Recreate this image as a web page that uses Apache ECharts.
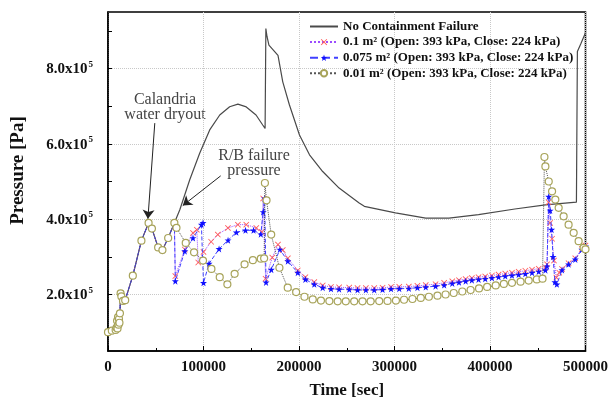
<!DOCTYPE html>
<html>
<head>
<meta charset="utf-8">
<script src="https://cdn.jsdelivr.net/npm/echarts@6/dist/echarts.min.js"></script>
<style>html,body{margin:0;padding:0;background:#fff;}#c{width:611px;height:405px;}</style>
</head>
<body>
<div id="c"></div>
<script>
// ---- Data (time in s, pressure in Pa) ----
const seriesNames = ['No Containment Failure', '0.1 m\u00B2 (Open: 393 kPa, Close: 224 kPa)', '0.075 m\u00B2 (Open: 393 kPa, Close: 224 kPa)', '0.01 m\u00B2 (Open: 393 kPa, Close: 224 kPa)'];
const xTickLabels = [0, 100000, 200000, 300000, 400000, 500000];
const yTickLabels = [200000, 400000, 600000, 800000];

// shared early transient (all cases identical)
const earlyT = [0, 4000, 8000, 10000, 11500, 12500, 13200, 14000, 15700, 18000, 26000, 35000, 42500, 46000, 52500, 57000, 63000, 69500];
const earlyP = [100000, 104000, 106000, 110000, 135000, 150000, 203000, 195000, 183000, 185000, 250000, 343000, 390000, 375000, 325000, 318000, 350000, 390000];

// oscillating cluster visible in 0.01 m2 case
const greenClusterT = [9000, 9500, 10500, 11000, 12000];
const greenClusterP = [112000, 130000, 140000, 120000, 125000];

const blackT = [75200, 85600, 96000, 106500, 117000, 127400, 136000, 144800, 155000, 162000, 164500, 165300, 166500, 168500, 178000, 183000, 190000, 200500, 211000, 224800, 242000, 263000, 268400, 301000, 332700, 357000, 388000, 426000, 458000, 490500, 491500, 495000, 500000];
const blackP = [425000, 504500, 575000, 637000, 676500, 698400, 705500, 698000, 676500, 650000, 641000, 906000, 885000, 862000, 835000, 764500, 703000, 623500, 571000, 526500, 482500, 443000, 434000, 416500, 403000, 403000, 412000, 427000, 438000, 445000, 845000, 865000, 895000];

const redT = [70500, 80400, 89000, 93000, 94500, 100000, 108000, 115000, 125600, 136000, 144800, 155300, 161000, 162500, 165000, 172000, 178000, 183000, 188300, 198700, 206700, 216000, 224800, 233500, 242000, 252600, 261300, 270000, 278800, 287500, 296400, 305000, 315000, 324000, 332700, 343000, 352000, 360500, 367500, 374500, 381000, 388000, 395000, 402000, 409000, 416000, 423000, 430000, 437000, 444000, 451000, 458000, 459700, 461300, 463000, 465000, 467000, 469500, 472500, 475400, 482300, 489300, 496200, 500000];
const redP = [249000, 319500, 363500, 372000, 285000, 313000, 340000, 359000, 376700, 385500, 385500, 376700, 366000, 455000, 242000, 298000, 332500, 318000, 296000, 264000, 246000, 233000, 224000, 220000, 219000, 218500, 217000, 217000, 217000, 218000, 220000, 220500, 221000, 223000, 225000, 227500, 231000, 235000, 238000, 241000, 243500, 246000, 248000, 250500, 253000, 255500, 258000, 260500, 263000, 266000, 268500, 271000, 280000, 445000, 390000, 348000, 290000, 245000, 258000, 268000, 283000, 296000, 321000, 330000];

const blueT = [70500, 80400, 89000, 97800, 99500, 100000, 105800, 116300, 125700, 134400, 144000, 152400, 160000, 162500, 164000, 165500, 171000, 180000, 188300, 198700, 206700, 216000, 224800, 233500, 242000, 252600, 261300, 270000, 278800, 287500, 296400, 305000, 315000, 324000, 332700, 343000, 352000, 360500, 367500, 374500, 381000, 388000, 395000, 402000, 409000, 416000, 423000, 430000, 437000, 444000, 451000, 458000, 459700, 461500, 463000, 464500, 466000, 468000, 470000, 475400, 482300, 489300, 496200, 500000];
const blueP = [235500, 315000, 350000, 385500, 390000, 231000, 282000, 321000, 344000, 365000, 370400, 370400, 360000, 419000, 455000, 232000, 266000, 319500, 288500, 258000, 240000, 227000, 218000, 215000, 214000, 213500, 212000, 212000, 212000, 213000, 215000, 215500, 216000, 218000, 219700, 222000, 225000, 229500, 232500, 235500, 238000, 240000, 241800, 244000, 246500, 249000, 251000, 253000, 255000, 258000, 261000, 264600, 275000, 460000, 423000, 372000, 300000, 233000, 227000, 265000, 280000, 293000, 319000, 328000];

const greenT = [71700, 81400, 90100, 99500, 108300, 117000, 125000, 132600, 143000, 151700, 160000, 163500, 164300, 166000, 170900, 179500, 188200, 197000, 205700, 214400, 223000, 231800, 240500, 249000, 257800, 266500, 275000, 284000, 292700, 301500, 310000, 318800, 327500, 336000, 345000, 353500, 362000, 371000, 379700, 388500, 397000, 406000, 414500, 423000, 432000, 440500, 449000, 455000, 457000, 458000, 461500, 465000, 468400, 471900, 477100, 482300, 487600, 492800, 498000, 500000];
const greenP = [377000, 337000, 312000, 290000, 268000, 246000, 227000, 255000, 280000, 291000, 295000, 296000, 496000, 450000, 359000, 271000, 218000, 206500, 194000, 187000, 184000, 182500, 182000, 182000, 182000, 182000, 182000, 182500, 183000, 184000, 186000, 188000, 191000, 194000, 197000, 200000, 204000, 208000, 212000, 216000, 220000, 224000, 228000, 231000, 234000, 237000, 240000, 242000, 565000, 540000, 500000, 474000, 452000, 430000, 407500, 385500, 363700, 341500, 324000, 320000];

// arrows: [fromT, fromP, toT, toP]
const arrowCalandria = [49000, 655000, 41800, 401000];
const arrowRB = [118000, 515000, 78300, 436000];

// ---- helpers ----
function zip(ts, ps) { return ts.map((t, i) => [t, ps[i]]); }
function joined(tsA, psA, tsB, psB) {
  return zip(tsA, psA).concat(zip(tsB, psB)).sort((a, b) => a[0] - b[0]);
}

const SERIF = 'Liberation Serif';
const crossPath = 'path://M0,1L1,0L5,4L9,0L10,1L6,5L10,9L9,10L5,6L1,10L0,9L4,5Z';
const starPath = 'path://M5,0L6.2,3.6L10,3.6L7,5.9L8.1,9.5L5,7.3L1.9,9.5L3,5.9L0,3.6L3.8,3.6Z';

const chart = echarts.init(document.getElementById('c'), null, { renderer: 'canvas' });

const yTicksAll = [100000, 200000, 300000, 400000, 500000, 600000, 700000, 800000, 900000];

chart.setOption({
  animation: false,
  backgroundColor: '#fff',
  grid: { left: 108, right: 24, top: 12, bottom: 54, show: true, borderColor: '#000', borderWidth: 1.5, backgroundColor: 'transparent' },
  legend: {
    orient: 'vertical', left: 304, top: 14, itemWidth: 28, itemHeight: 8, itemGap: 0.6,
    textStyle: { fontFamily: SERIF, fontWeight: 'bold', fontSize: 13, color: '#111', lineHeight: 15 },
    data: seriesNames
  },
  xAxis: {
    type: 'value', min: 0, max: 500000, interval: 100000,
    axisLine: { show: true, lineStyle: { color: '#000', width: 1.5 } },
    axisTick: { show: true, inside: true, length: 5, lineStyle: { color: '#000' } },
    minorTick: { show: true, splitNumber: 2, length: 3, lineStyle: { color: '#000' } },
    axisLabel: { fontFamily: SERIF, fontWeight: 'bold', fontSize: 15, color: '#111', margin: 9,
      customValues: xTickLabels, formatter: v => String(v) },
    splitLine: { show: true, lineStyle: { color: '#c8c8c8', type: 'dotted', width: 1 } },
    name: 'Time [sec]', nameLocation: 'middle', nameGap: 31,
    nameTextStyle: { fontFamily: SERIF, fontWeight: 'bold', fontSize: 17, color: '#111' }
  },
  yAxis: [{
    type: 'value', min: 50000, max: 950000,
    axisLine: { show: true, lineStyle: { color: '#000', width: 1.5 } },
    axisTick: { show: true, inside: true, length: 4, customValues: yTicksAll, lineStyle: { color: '#000' } },
    axisLabel: {
      customValues: yTickLabels, margin: 15,
      formatter: v => '{a|' + (v / 100000).toFixed(1) + 'x10}{s|5}',
      rich: {
        a: { fontFamily: SERIF, fontWeight: 'bold', fontSize: 15, color: '#111', lineHeight: 17, verticalAlign: 'bottom' },
        s: { fontFamily: SERIF, fontWeight: 'bold', fontSize: 9, color: '#111', lineHeight: 17, verticalAlign: 'top', padding: [0, 0, 9, 1] }
      }
    },
    splitLine: { show: false },
    name: 'Pressure [Pa]', nameLocation: 'middle', nameGap: 80,
    nameTextStyle: { fontFamily: SERIF, fontWeight: 'bold', fontSize: 19, color: '#111', padding: [0, 0, 0, 22] }
  }, {
    type: 'value', min: 50000, max: 950000, position: 'left',
    axisLine: { show: false }, axisLabel: { show: false },
    axisTick: { show: false, customValues: yTickLabels },
    splitLine: { show: true, lineStyle: { color: '#c8c8c8', type: 'dotted', width: 1 } }
  }],
  graphic: [
    { type: 'text', x: 165, y: 92, style: { text: 'Calandria\nwater dryout', fontFamily: SERIF, fontSize: 16, fill: '#444', align: 'center', lineHeight: 15 } },
    { type: 'text', x: 254, y: 148, style: { text: 'R/B failure\npressure', fontFamily: SERIF, fontSize: 16, fill: '#444', align: 'center', lineHeight: 15 } }
  ],
  series: [
    {
      name: seriesNames[0], type: 'line', showSymbol: false, symbol: 'circle',
      data: joined(earlyT, earlyP, blackT, blackP),
      lineStyle: { color: '#4a4a4a', width: 1.2, type: 'solid', opacity: 1 },
      itemStyle: { color: '#4a4a4a', opacity: 0 },
      z: 2,
      markLine: {
        silent: true, symbol: ['none', 'arrow'], symbolSize: 9, animation: false,
        label: { show: false },
        lineStyle: { color: '#222', type: 'solid', width: 1, opacity: 1 },
        itemStyle: { opacity: 1 },
        data: [
          [{ coord: [arrowCalandria[0], arrowCalandria[1]] }, { coord: [arrowCalandria[2], arrowCalandria[3]] }],
          [{ coord: [arrowRB[0], arrowRB[1]] }, { coord: [arrowRB[2], arrowRB[3]] }]
        ]
      }
    },
    {
      name: seriesNames[1], type: 'line', symbol: crossPath, symbolSize: 6, showAllSymbol: true,
      data: joined(earlyT, earlyP, redT, redP),
      lineStyle: { color: '#9b4dff', width: 1, type: 'dotted' },
      itemStyle: { color: '#ff5a5a' }, z: 3
    },
    {
      name: seriesNames[2], type: 'line', symbol: starPath, symbolSize: 7, showAllSymbol: true,
      data: joined(earlyT, earlyP, blueT, blueP),
      lineStyle: { color: '#4040ff', width: 1, type: 'dashed' },
      itemStyle: { color: '#1010ff' }, z: 4
    },
    {
      name: seriesNames[3], type: 'line', symbol: 'circle', symbolSize: 7, showAllSymbol: true,
      data: joined(earlyT.concat(greenClusterT), earlyP.concat(greenClusterP), greenT, greenP),
      lineStyle: { color: '#555', width: 1, type: 'dotted' },
      itemStyle: { color: '#fff', borderColor: '#a8a45a', borderWidth: 1.2 }, z: 5
    }
  ]
});
</script>
</body>
</html>
